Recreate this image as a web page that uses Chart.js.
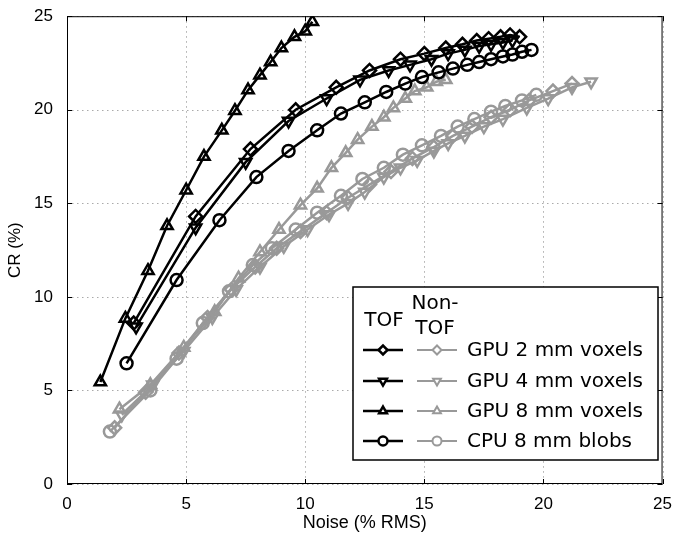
<!DOCTYPE html>
<html>
<head>
<meta charset="utf-8">
<script src="https://cdn.jsdelivr.net/npm/chart.js@4.4.1/dist/chart.umd.min.js"></script>
<style>
  html, body { margin: 0; padding: 0; background: #fff; }
  #wrap { width: 674px; height: 535px; }
</style>
</head>
<body>
<div id="wrap"><canvas id="myChart" width="674" height="535"></canvas></div>
<script>
// tick labels
const xTicks = [0, 5, 10, 15, 20, 25]
const yTicks = [0, 5, 10, 15, 20, 25]

const seriesNames = ["GPU 2 mm voxels", "GPU 4 mm voxels", "GPU 8 mm voxels", "CPU 8 mm blobs"]

// TOF (black)
const tof2x = [2.8, 5.4, 7.7, 9.6, 11.3, 12.7, 14.0, 15.0, 15.9, 16.6, 17.2, 17.7, 18.2, 18.6, 19.0]
const tof2y = [8.6, 14.3, 17.9, 20.0, 21.2, 22.1, 22.7, 23.0, 23.3, 23.5, 23.7, 23.8, 23.9, 24.0, 23.9]

const tof4x = [2.9, 5.4, 7.5, 9.3, 10.9, 12.3, 13.5, 14.4, 15.3, 16.0, 16.7, 17.3, 17.8, 18.3, 18.7]
const tof4y = [8.4, 13.7, 17.2, 19.4, 20.6, 21.6, 22.1, 22.4, 22.7, 23.0, 23.2, 23.4, 23.5, 23.6, 23.7]

const tof8x = [1.4, 2.45, 3.4, 4.2, 5.0, 5.75, 6.5, 7.05, 7.6, 8.1, 8.55, 9.0, 9.55, 10.0, 10.3]
const tof8y = [5.45, 8.85, 11.4, 13.8, 15.7, 17.5, 18.9, 19.95, 21.05, 21.85, 22.55, 23.3, 23.9, 24.2, 24.7]

const tofCx = [2.5, 4.6, 6.4, 7.95, 9.3, 10.5, 11.5, 12.5, 13.4, 14.2, 14.9, 15.6, 16.2, 16.8, 17.3, 17.8, 18.3, 18.7, 19.1, 19.5]
const tofCy = [6.45, 10.9, 14.1, 16.4, 17.8, 18.9, 19.8, 20.4, 20.95, 21.4, 21.75, 22.0, 22.2, 22.4, 22.55, 22.7, 22.85, 22.95, 23.1, 23.2]

// Non-TOF (gray)
const non2x = [2.0, 3.3, 4.7, 5.9, 6.9, 7.9, 8.8, 9.8, 10.9, 11.8, 12.7, 13.6, 14.5, 15.4, 16.2, 17.0, 17.8, 18.6, 19.4, 20.4, 21.2]
const non2y = [3.0, 4.9, 7.0, 8.9, 10.4, 11.6, 12.6, 13.5, 14.5, 15.3, 16.0, 16.7, 17.4, 18.0, 18.6, 19.1, 19.6, 20.0, 20.5, 21.0, 21.4]

const non4x = [2.3, 3.6, 4.9, 6.1, 7.1, 8.1, 9.1, 10.1, 11.0, 11.8, 12.5, 13.3, 14.0, 14.7, 15.4, 16.0, 16.7, 17.5, 18.3, 19.3, 20.2, 21.2, 22.0]
const non4y = [3.7, 5.3, 7.1, 8.9, 10.4, 11.6, 12.7, 13.6, 14.4, 15.0, 15.6, 16.4, 16.9, 17.3, 17.8, 18.2, 18.6, 19.1, 19.5, 20.1, 20.6, 21.2, 21.5]

const non8x = [2.2, 3.5, 4.9, 6.2, 7.2, 8.1, 8.9, 9.8, 10.5, 11.1, 11.7, 12.2, 12.8, 13.3, 13.7, 14.2, 14.6, 15.1, 15.5, 15.9]
const non8y = [4.0, 5.3, 7.3, 9.2, 11.0, 12.4, 13.6, 14.9, 15.8, 16.9, 17.7, 18.4, 19.1, 19.6, 20.1, 20.6, 21.0, 21.2, 21.5, 21.6]

const nonCx = [1.8, 3.5, 4.6, 5.7, 6.8, 7.8, 8.6, 9.6, 10.5, 11.5, 12.4, 13.3, 14.1, 14.9, 15.7, 16.4, 17.1, 17.8, 18.4, 19.1, 19.7]
const nonCy = [2.8, 5.0, 6.7, 8.6, 10.3, 11.7, 12.6, 13.6, 14.5, 15.4, 16.3, 16.9, 17.6, 18.1, 18.6, 19.1, 19.5, 19.9, 20.2, 20.5, 20.8]

const BLACK = "#000"
const GRAY = "#999"
const styles = [
  { pointStyle: "rectRot", rotation: 0, radius: 6.5 },
  { pointStyle: "triangle", rotation: 180, radius: 6.5 },
  { pointStyle: "triangle", rotation: 0, radius: 6.5 },
  { pointStyle: "circle", rotation: 0, radius: 6 },
]

function toPoints(xs, ys) {
  let pts = []
  for (let i = 0; i < xs.length; i++) pts.push({ x: xs[i], y: ys[i] })
  return pts
}

function makeSet(label, xs, ys, color, st) {
  return {
    label: label,
    data: toPoints(xs, ys),
    showLine: true,
    borderColor: color,
    borderWidth: 2.5,
    backgroundColor: "rgba(0,0,0,0)",
    pointBorderColor: color,
    pointBackgroundColor: "rgba(0,0,0,0)",
    pointBorderWidth: 2.5,
    pointStyle: st.pointStyle,
    pointRotation: st.rotation,
    pointRadius: st.radius,
    tension: 0,
  }
}

const datasets = [
  makeSet("TOF " + seriesNames[0], tof2x, tof2y, BLACK, styles[0]),
  makeSet("TOF " + seriesNames[1], tof4x, tof4y, BLACK, styles[1]),
  makeSet("TOF " + seriesNames[2], tof8x, tof8y, BLACK, styles[2]),
  makeSet("TOF " + seriesNames[3], tofCx, tofCy, BLACK, styles[3]),
  makeSet("Non-TOF " + seriesNames[0], non2x, non2y, GRAY, styles[0]),
  makeSet("Non-TOF " + seriesNames[1], non4x, non4y, GRAY, styles[1]),
  makeSet("Non-TOF " + seriesNames[2], non8x, non8y, GRAY, styles[2]),
  makeSet("Non-TOF " + seriesNames[3], nonCx, nonCy, GRAY, styles[3]),
]

// dotted grid, box and inward ticks
const framePlugin = {
  id: "frame",
  beforeDatasetsDraw(chart) {
    const ctx = chart.ctx
    const a = chart.chartArea
    ctx.save()
    ctx.strokeStyle = "#aaa"
    ctx.lineWidth = 1
    ctx.setLineDash([1.5, 3.5])
    ctx.beginPath()
    for (const v of xTicks) {
      const px = Math.round(chart.scales.x.getPixelForValue(v)) + 0.5
      ctx.moveTo(px, a.top); ctx.lineTo(px, a.bottom)
    }
    for (const v of yTicks) {
      const py = Math.round(chart.scales.y.getPixelForValue(v)) + 0.5
      ctx.moveTo(a.left, py); ctx.lineTo(a.right, py)
    }
    ctx.stroke()
    ctx.restore()
  },
  afterDatasetsDraw(chart) {
    const ctx = chart.ctx
    const a = chart.chartArea
    const xs = chart.scales.x
    const ys = chart.scales.y
    ctx.save()
    ctx.strokeStyle = "#000"
    ctx.lineWidth = 1
    ctx.strokeRect(a.left + 0.5, a.top + 0.5, a.right - a.left - 1, a.bottom - a.top - 1)
    ctx.beginPath()
    for (const v of xTicks) {
      const px = Math.round(xs.getPixelForValue(v)) + 0.5
      ctx.moveTo(px, a.bottom); ctx.lineTo(px, a.bottom - 5)
      ctx.moveTo(px, a.top); ctx.lineTo(px, a.top + 5)
    }
    for (const v of yTicks) {
      const py = Math.round(ys.getPixelForValue(v)) + 0.5
      ctx.moveTo(a.left, py); ctx.lineTo(a.left + 5, py)
      ctx.moveTo(a.right, py); ctx.lineTo(a.right - 5, py)
    }
    ctx.stroke()
    ctx.restore()
  },
}

// two column legend
const legendPlugin = {
  id: "twoColLegend",
  afterDraw(chart) {
    const ctx = chart.ctx
    const bx = 353, by = 287, bw = 305, bh = 173
    ctx.save()
    ctx.fillStyle = "#fff"
    ctx.fillRect(bx, by, bw, bh)
    ctx.strokeStyle = "#000"
    ctx.lineWidth = 1.5
    ctx.strokeRect(bx, by, bw, bh)

    ctx.fillStyle = "#000"
    ctx.font = "20px 'DejaVu Sans'"
    ctx.textBaseline = "middle"
    ctx.textAlign = "center"
    ctx.fillText("TOF", 384, 321)
    ctx.fillText("Non-", 435, 304)
    ctx.fillText("TOF", 435, 329)

    ctx.textAlign = "left"
    const rows = [350, 381, 411, 441]
    for (let i = 0; i < 4; i++) {
      const y = rows[i]
      const cols = [[363, 403, BLACK, 2.5], [417, 457, GRAY, 2]]
      for (const c of cols) {
        ctx.strokeStyle = c[2]
        ctx.lineWidth = c[3]
        ctx.beginPath()
        ctx.moveTo(c[0], y); ctx.lineTo(c[1], y)
        ctx.stroke()
        ctx.fillStyle = "#fff"
        Chart.helpers.drawPoint(ctx, {
          pointStyle: styles[i].pointStyle,
          rotation: styles[i].rotation,
          radius: 4.5,
          borderWidth: c[3],
        }, (c[0] + c[1]) / 2, y)
      }
      ctx.fillStyle = "#000"
      ctx.font = "20px 'DejaVu Sans'"
      ctx.fillText(seriesNames[i], 467, y + 1)
    }
    ctx.restore()
  },
}

function drawChart() {
  const ctx = document.getElementById("myChart")
  new Chart(ctx, {
    type: "scatter",
    data: { datasets: datasets },
    plugins: [framePlugin, legendPlugin],
    options: {
      responsive: false,
      animation: false,
      layout: { padding: { top: 14, right: 10, left: 0, bottom: 0 } },
      plugins: { legend: { display: false }, tooltip: { enabled: false } },
      scales: {
        x: {
          type: "linear",
          min: 0,
          max: 25,
          afterFit: (s) => { s.height = 51 },
          afterBuildTicks: (s) => { s.ticks = xTicks.map(v => ({ value: v })) },
          ticks: { color: "#000", font: { family: "Liberation Sans", size: 17 }, padding: 2 },
          grid: { display: false },
          border: { display: false },
          title: { display: true, text: "Noise (% RMS)", color: "#000", font: { family: "Liberation Sans", size: 18 }, padding: { top: 0, bottom: 1 } },
        },
        y: {
          type: "linear",
          min: 0,
          max: 25,
          afterFit: (s) => { s.width = 67 },
          afterBuildTicks: (s) => { s.ticks = yTicks.map(v => ({ value: v })) },
          ticks: { color: "#000", font: { family: "Liberation Sans", size: 17 }, padding: 6 },
          grid: { display: false },
          border: { display: false },
          title: { display: true, text: "CR (%)", color: "#000", font: { family: "Liberation Sans", size: 17 }, padding: { top: 5, bottom: 6 } },
        },
      },
    },
  })
}

document.addEventListener("DOMContentLoaded", drawChart)
</script>
</body>
</html>
